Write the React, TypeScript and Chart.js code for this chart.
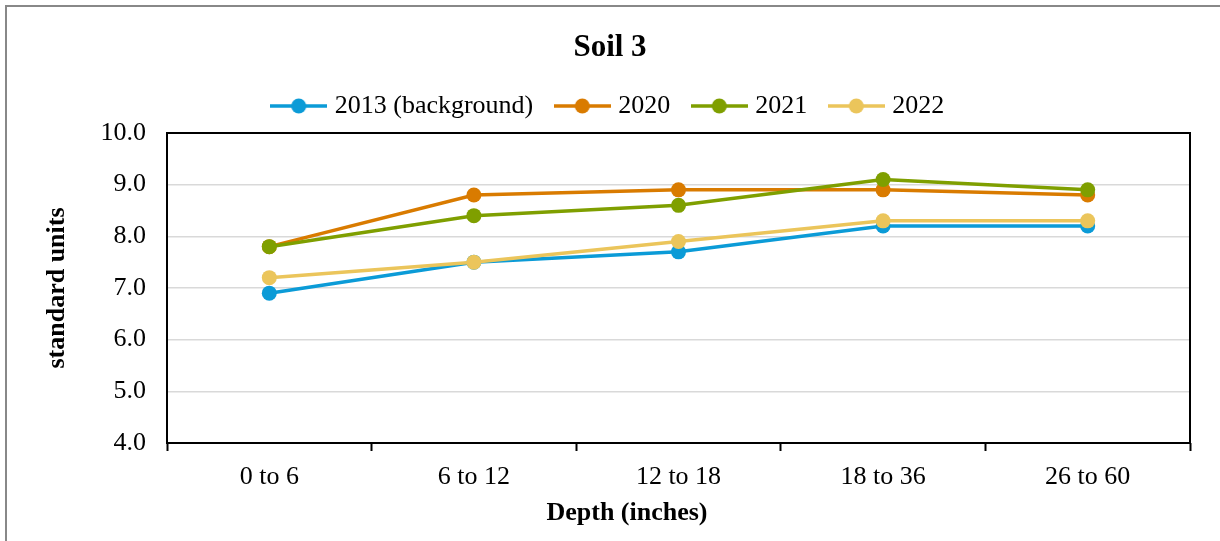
import React, { useEffect, useRef } from 'react';
import { Chart, registerables } from 'chart.js';

Chart.register(...registerables);

const categories = ['0 to 6', '6 to 12', '12 to 18', '18 to 36', '26 to 60'];
const seriesLabels = ['2013 (background)', '2020', '2021', '2022'];
const values2013 = [6.9, 7.5, 7.7, 8.2, 8.2];
const values2020 = [7.8, 8.8, 8.9, 8.9, 8.8];
const values2021 = [7.8, 8.4, 8.6, 9.1, 8.9];
const values2022 = [7.2, 7.5, 7.9, 8.3, 8.3];
const seriesColors = ['#0B9BD7', '#D97B00', '#7F9F00', '#EBC55B'];
const yTicks = [4, 5, 6, 7, 8, 9, 10];
const chartTitle = 'Soil 3';
const xTitle = 'Depth (inches)';
const yTitle = 'standard units';

const FONT = '"Liberation Serif", "Times New Roman", serif';

function makeLegendImage(color: string): HTMLCanvasElement {
  const c = document.createElement('canvas');
  c.width = 57;
  c.height = 16;
  const g = c.getContext('2d')!;
  g.strokeStyle = color;
  g.lineWidth = 3.5;
  g.beginPath();
  g.moveTo(0, 8);
  g.lineTo(57, 8);
  g.stroke();
  g.fillStyle = color;
  g.beginPath();
  g.arc(28.5, 8, 7.5, 0, Math.PI * 2);
  g.fill();
  return c;
}

const framePlugin = {
  id: 'frameAndTitles',
  beforeDraw(chart: any) {
    const ctx = chart.ctx;
    ctx.save();
    ctx.fillStyle = '#888888';
    ctx.fillRect(5, 5, chart.width - 5, 2);
    ctx.fillRect(5, 5, 2, chart.height - 5);
    ctx.restore();
  },
  afterDraw(chart: any) {
    const { ctx, chartArea } = chart;
    ctx.save();
    ctx.strokeStyle = '#000';
    ctx.lineWidth = 2;
    ctx.strokeRect(
      chartArea.left,
      chartArea.top,
      chartArea.right - chartArea.left,
      chartArea.bottom - chartArea.top
    );
    ctx.font = 'bold 26px ' + FONT;
    ctx.fillStyle = '#000';
    ctx.textAlign = 'center';
    ctx.textBaseline = 'middle';
    ctx.fillText(xTitle, chart.width / 2 + 17, 513);
    ctx.restore();
  },
};

export default function App() {
  const canvasRef = useRef<HTMLCanvasElement | null>(null);

  useEffect(() => {
    if (!canvasRef.current) return;
    Chart.defaults.font.family = FONT;
    const seriesValues = [values2013, values2020, values2021, values2022];
    const legendImages = seriesColors.map(makeLegendImage);
    const datasets = seriesLabels.map((label, i) => ({
      label,
      data: seriesValues[i],
      borderColor: seriesColors[i],
      backgroundColor: seriesColors[i],
      pointBackgroundColor: seriesColors[i],
      pointBorderColor: seriesColors[i],
      pointBorderWidth: 0,
      pointRadius: 7.5,
      pointHoverRadius: 7.5,
      borderWidth: 3.5,
      tension: 0,
      fill: false,
      order: seriesLabels.length - 1 - i,
    }));

    const chart = new Chart(canvasRef.current, {
      type: 'line',
      data: { labels: categories, datasets },
      plugins: [framePlugin],
      options: {
        animation: false,
        responsive: false,
        devicePixelRatio: 1,
        events: [],
        layout: { padding: { left: 30, right: 30, top: 0, bottom: 36.8 } },
        plugins: {
          title: {
            display: true,
            text: chartTitle,
            color: '#000',
            font: { size: 31, weight: 'bold' },
            padding: { top: 29, bottom: 0.8 },
          },
          legend: {
            display: true,
            position: 'top',
            weight: 1800,
            labels: {
              usePointStyle: true,
              pointStyleWidth: 46,
              padding: 26,
              color: '#000',
              font: { size: 26 },
              generateLabels: (ch: any) =>
                ch.data.datasets.map((ds: any, i: number) => ({
                  text: ds.label,
                  pointStyle: legendImages[i],
                  fillStyle: ds.borderColor,
                  strokeStyle: ds.borderColor,
                  lineWidth: 0,
                  hidden: false,
                  datasetIndex: i,
                  fontColor: '#000',
                })),
            },
          },
          subtitle: {
            display: true,
            text: ' ',
            font: { size: 1 },
            padding: { top: 0, bottom: 2.8 },
          },
          tooltip: { enabled: false },
        },
        scales: {
          x: {
            type: 'category',
            offset: true,
            grid: {
              display: true,
              offset: true,
              drawOnChartArea: false,
              drawTicks: true,
              tickLength: 8,
              tickColor: '#000',
              tickWidth: 2,
              color: '#000',
            },
            border: { display: false },
            ticks: {
              color: '#000',
              font: { size: 26 },
              padding: 11,
              maxRotation: 0,
              autoSkip: false,
            },
          },
          y: {
            min: yTicks[0],
            max: yTicks[yTicks.length - 1],
            ticks: {
              stepSize: 1,
              color: '#000',
              font: { size: 26 },
              padding: 21,
              callback: (v: any) => Number(v).toFixed(1),
            },
            grid: { color: '#d9d9d9', lineWidth: 1.5, drawTicks: false },
            border: { display: false },
            title: {
              display: true,
              text: yTitle,
              color: '#000',
              font: { size: 26, weight: 'bold' },
              padding: { top: 11.4, bottom: 6.9 },
            },
          },
        },
      } as any,
    });
    return () => chart.destroy();
  }, []);

  return (
    <div style={{ position: 'fixed', left: 0, top: 0, width: 1220, height: 541, background: '#fff' }}>
      <canvas ref={canvasRef} width={1220} height={541} style={{ display: 'block', width: 1220, height: 541 }} />
    </div>
  );
}
